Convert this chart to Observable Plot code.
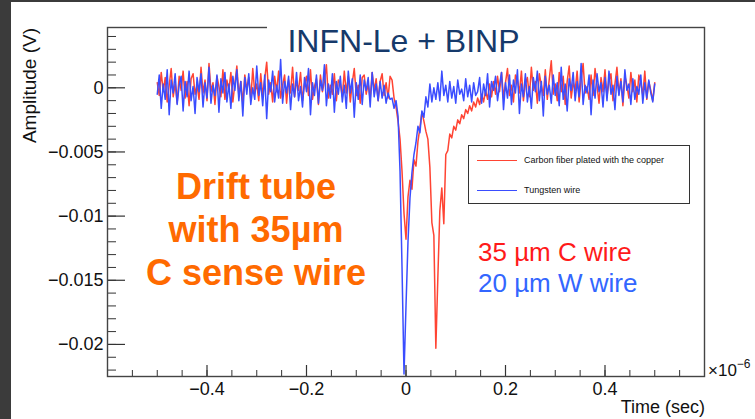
<!DOCTYPE html>
<html><head><meta charset="utf-8">
<script src="https://cdn.jsdelivr.net/npm/d3@7"></script>
<script src="https://cdn.jsdelivr.net/npm/@observablehq/plot@0.6"></script>
<style>
html,body{margin:0;padding:0;background:#3b3b3b;}
#wrap{position:relative;width:755px;height:419px;overflow:hidden;font-family:"Liberation Sans",Arial,sans-serif;}
#paper{position:absolute;left:11px;top:2px;right:0;bottom:0;background:#fff;}
#chart{position:absolute;left:0;top:0;}
.abs{position:absolute;white-space:nowrap;}
</style></head>
<body>
<div id="wrap">
  <div id="paper"></div>
  <div id="chart"></div>
  <div class="abs" id="title" style="left:267px;top:25px;width:273px;height:32px;background:#fff;text-align:center;font-size:32px;line-height:32px;color:#163a6b;"></div>
  <div class="abs" id="orange" style="left:106px;top:165px;width:300px;text-align:center;font-size:36px;line-height:43px;font-weight:bold;color:#ff6a00;"></div>
  <div class="abs" id="redNote" style="left:478px;top:237px;font-size:26px;line-height:31px;color:#ff1a1a;"></div>
  <div class="abs" id="blueNote" style="left:478px;top:268px;font-size:26px;line-height:31px;color:#3366ff;"></div>
  <div class="abs" id="legend" style="left:468px;top:145px;width:222px;height:59px;box-sizing:border-box;border:1px solid #333;background:#fff;"></div>
  <div class="abs" id="xmult" style="left:708px;top:362px;font-size:17px;line-height:17px;color:#111;"></div>
  <div class="abs" id="xlabel" style="right:50px;top:398px;font-size:18px;line-height:18px;color:#111;"></div>
  <div class="abs" id="ylabel" style="left:20px;top:28px;font-size:19px;line-height:19px;color:#111;transform-origin:0 0;transform:rotate(-90deg) translateX(-100%);"></div>
</div>
<script>
// ---- text ----
const titleText = "INFN-Le + BINP";
const orangeLines = ["Drift tube", "with 35µm", "C sense wire"];
const redNoteText = "35 µm C wire";
const blueNoteText = "20 µm W wire";
const seriesNames = ["Carbon fiber plated with the copper", "Tungsten wire"];
const seriesColors = ["#ff4433", "#3a4dff"];
const xLabelText = "Time (sec)";
const yLabelText = "Amplitude (V)";

// ---- axes ----
const xDomain = [-0.6, 0.6];          // ×10^-6 s
const yDomain = [-0.0225, 0.0047];    // V
const xMajor = [-0.4, -0.2, 0, 0.2, 0.4];
const yMajor = [0, -0.005, -0.01, -0.015, -0.02];

// ---- sampled waveforms (mV), samples from t = -0.5 to 0.5 (×10^-6 s), step 0.004 ----
const T_START = -0.5, T_STEP = 0.004;
const carbonMV = [
0.4,-0.6,1.2,-0.3,0.8,-1.1,0.2,1.5,-0.7,0.3,
-1.2,0.9,-0.2,1.3,-0.8,0.5,-1.4,0.7,1.1,-0.5,
0.2,-0.9,1.6,-0.4,0.6,-1.0,1.9,-0.3,0.4,-1.3,
0.9,0.1,-0.7,1.4,-0.9,0.6,-0.2,1.2,-1.1,0.3,
1.7,-0.6,0.5,-1.2,1.0,-0.1,0.8,-0.9,1.5,-0.4,
0.3,-1.0,1.1,-0.6,0.7,2.0,-0.5,0.4,-1.1,0.9,
-0.3,1.3,-0.8,0.2,1.0,-1.2,0.6,-0.4,1.6,-0.7,
0.5,-0.2,1.2,-1.0,0.3,0.9,-0.6,1.4,-0.9,0.1,
0.7,-1.3,1.0,-0.3,0.5,1.8,-0.8,0.2,-0.5,1.1,
-1.0,0.6,0.3,-0.7,1.3,-0.4,0.9,-1.1,0.4,1.5,
-0.6,0.2,-1.2,0.8,1.0,-0.5,0.3,-0.9,1.2,-0.2,
0.7,-1.0,0.5,1.1,-0.6,0.4,-0.8,0.9,
0.6,-0.8,-1.5,-2.6,-4.0,-6.5,-9.8,-11.8,-8.5,-7.2,
-7.9,-5.6,-6.1,-4.2,-3.1,-1.9,-2.6,-3.4,-4.0,-6.2,
-10.5,-11.5,-20.3,-14.8,-9.6,-7.8,-10.6,-5.2,-4.9,-3.6,
-3.9,-3.0,-3.3,-2.5,-2.8,-2.1,-2.4,-1.7,-2.0,-1.4,
-1.8,-1.1,-1.5,
-0.8,-1.3,-0.5,-1.1,-0.2,-0.9,0.3,-0.7,0.5,-0.5,
0.9,-0.3,1.2,-0.8,0.4,1.5,-0.6,0.2,-1.1,1.0,
0.6,-0.4,1.3,-1.0,0.3,0.8,-0.7,1.6,-0.2,0.5,
-1.2,1.1,0.2,-0.6,1.4,-0.9,0.7,2.1,-0.5,0.3,
-1.0,1.2,-0.3,0.9,-1.3,0.5,1.7,-0.8,0.4,-0.2,
1.3,-1.1,0.6,1.9,-0.4,0.1,-0.9,1.0,-0.6,1.5,
0.2,-1.2,0.8,-0.3,1.4,-0.7,0.5,1.1,-1.0,0.3,
1.6,-0.5,0.7,-1.4,0.9,0.2,-0.8,1.2,-0.3,0.6,
-1.1,1.0,0.4,-0.6,1.3,-0.9,0.5,-0.2,-1.0,0.4
];
const tungstenMV = [
-0.5,1.0,-1.6,0.3,-0.9,1.4,-2.1,0.6,-0.4,1.1,
-1.3,0.2,0.9,-1.8,0.5,-0.7,1.3,-1.0,0.1,-2.0,
0.8,-0.3,1.1,-1.5,0.4,-0.8,1.6,-1.2,0.2,-0.6,
1.0,-1.9,0.7,-0.4,1.2,-1.1,0.3,-1.6,0.9,-0.2,
1.4,-1.0,0.5,-2.2,0.8,-0.5,1.1,-1.3,0.0,-0.9,
1.7,-0.6,0.4,-1.4,1.0,-2.4,0.6,-0.3,1.3,-1.1,
0.2,-0.8,2.2,-1.2,0.5,-0.4,0.9,-1.7,0.3,-0.7,
1.2,-1.0,0.1,-1.5,0.8,-0.3,1.5,-2.1,0.4,-0.6,
1.0,-1.2,0.6,-0.2,1.8,-1.4,0.3,-0.8,1.1,-1.9,
0.5,-0.5,0.9,-1.1,0.2,-1.6,1.3,-0.4,0.7,-2.3,
0.4,-0.9,1.0,-1.3,0.6,-0.2,0.8,-1.5,1.2,-0.7,
0.3,-1.0,0.5,-0.8,0.2,-1.2,-0.4,-0.9,
-0.8,-1.6,-1.0,-2.2,-6.5,-14.0,-22.3,-17.0,-12.0,-8.6,
-6.6,-5.2,-4.3,-3.0,-3.5,-1.8,-2.3,-0.7,-1.5,0.3,
-1.1,0.0,-0.9,0.4,-1.0,1.3,-0.6,0.2,-1.1,0.5,
-0.8,0.1,-1.2,0.6,-0.5,-0.1,-1.0,0.7,-0.7,0.2,
-1.1,0.4,-0.6,
-0.3,0.8,-1.2,0.3,-0.6,1.1,-1.5,0.5,-0.2,0.9,
-1.0,0.2,1.2,-1.7,0.4,-0.8,1.0,-1.3,0.6,-0.4,
1.4,-2.0,0.3,-0.7,1.1,-1.1,0.1,-1.6,0.8,-0.3,
1.3,-1.0,0.5,-2.2,0.9,-0.5,0.2,-1.2,1.0,-0.6,
0.4,-1.4,1.6,-0.9,0.3,-1.8,0.7,-0.2,1.2,-1.0,
0.5,-0.7,1.9,-1.3,0.2,-0.4,1.0,-2.1,0.6,-0.8,
1.1,-0.3,0.4,-1.5,0.8,-1.0,1.3,-0.5,0.2,-1.7,
0.9,-0.6,0.5,-1.1,1.4,-0.2,0.3,-1.3,0.7,-0.9,
0.1,-0.5,1.0,-1.2,0.4,-0.8,0.6,-0.4,-1.1,0.3
];

const toRows = (arr, name) => arr.map((v, i) => ({t: +(T_START + i * T_STEP).toFixed(3), v: v / 1000, name}));
const carbonRows = toRows(carbonMV, seriesNames[0]);
const tungstenRows = toRows(tungstenMV, seriesNames[1]);

const W = 755, H = 419, mL = 107, mR = 51, mT = 27, mB = 43;
const innerW = W - mL - mR, innerH = H - mT - mB;
const yMinor = d3.range(-22, 5).map(k => k / 1000);
const xMinor = d3.range(-11, 12).map(k => +(k * 0.05).toFixed(2));
const fmtY = d => d === 0 ? "0" : String(d).replace("-", "\u2212");
const fmtX = d => d === 0 ? "0" : d.toFixed(1).replace("-", "\u2212");
const tickColor = "#333";

const chart = Plot.plot({
  width: W, height: H,
  marginLeft: mL, marginRight: mR, marginTop: mT, marginBottom: mB,
  style: {background: "transparent", fontFamily: "'Liberation Sans', Arial, sans-serif", color: "#111"},
  x: {domain: xDomain},
  y: {domain: yDomain},
  marks: [
    Plot.line(carbonRows, {x: "t", y: "v", stroke: seriesColors[0], strokeWidth: 1.5}),
    Plot.line(tungstenRows, {x: "t", y: "v", stroke: seriesColors[1], strokeWidth: 1.5}),
    Plot.tickY(yMinor, {y: d => d, stroke: tickColor, strokeWidth: 1, insetRight: innerW - 9}),
    Plot.tickY(yMajor, {y: d => d, stroke: tickColor, strokeWidth: 1.2, insetRight: innerW - 18}),
    Plot.tickX(xMinor, {x: d => d, stroke: tickColor, strokeWidth: 1, insetTop: innerH - 6}),
    Plot.tickX(xMajor, {x: d => d, stroke: tickColor, strokeWidth: 1.2, insetTop: innerH - 11}),
    Plot.frame({stroke: "#444", strokeWidth: 1.4}),
    Plot.axisY(yMajor, {tickSize: 0, tickPadding: 4, tickFormat: fmtY, fontSize: 18, label: null}),
    Plot.axisX(xMajor, {tickSize: 0, tickPadding: 6, tickFormat: fmtX, fontSize: 18, label: null})
  ]
});
document.getElementById("chart").appendChild(chart);

// overlays
document.getElementById("title").textContent = titleText;
document.getElementById("orange").innerHTML = orangeLines.map(s => `<div>${s}</div>`).join("");
document.getElementById("redNote").textContent = redNoteText;
document.getElementById("blueNote").textContent = blueNoteText;
document.getElementById("xlabel").textContent = xLabelText;
document.getElementById("ylabel").textContent = yLabelText;
document.getElementById("xmult").innerHTML = `×10<span style="font-size:12px;position:relative;top:-8px;">\u22126</span>`;
const leg = document.getElementById("legend");
seriesNames.forEach((name, i) => {
  const cy = 14 + i * 30;
  leg.insertAdjacentHTML("beforeend",
    `<div class="abs" style="left:8px;top:${cy}px;width:40px;height:0;border-top:1.5px solid ${seriesColors[i]};"></div>` +
    `<div class="abs" style="left:55px;top:${cy - 6}px;font-size:9px;line-height:12px;color:#111;">${name}</div>`);
});
</script>
</body></html>
